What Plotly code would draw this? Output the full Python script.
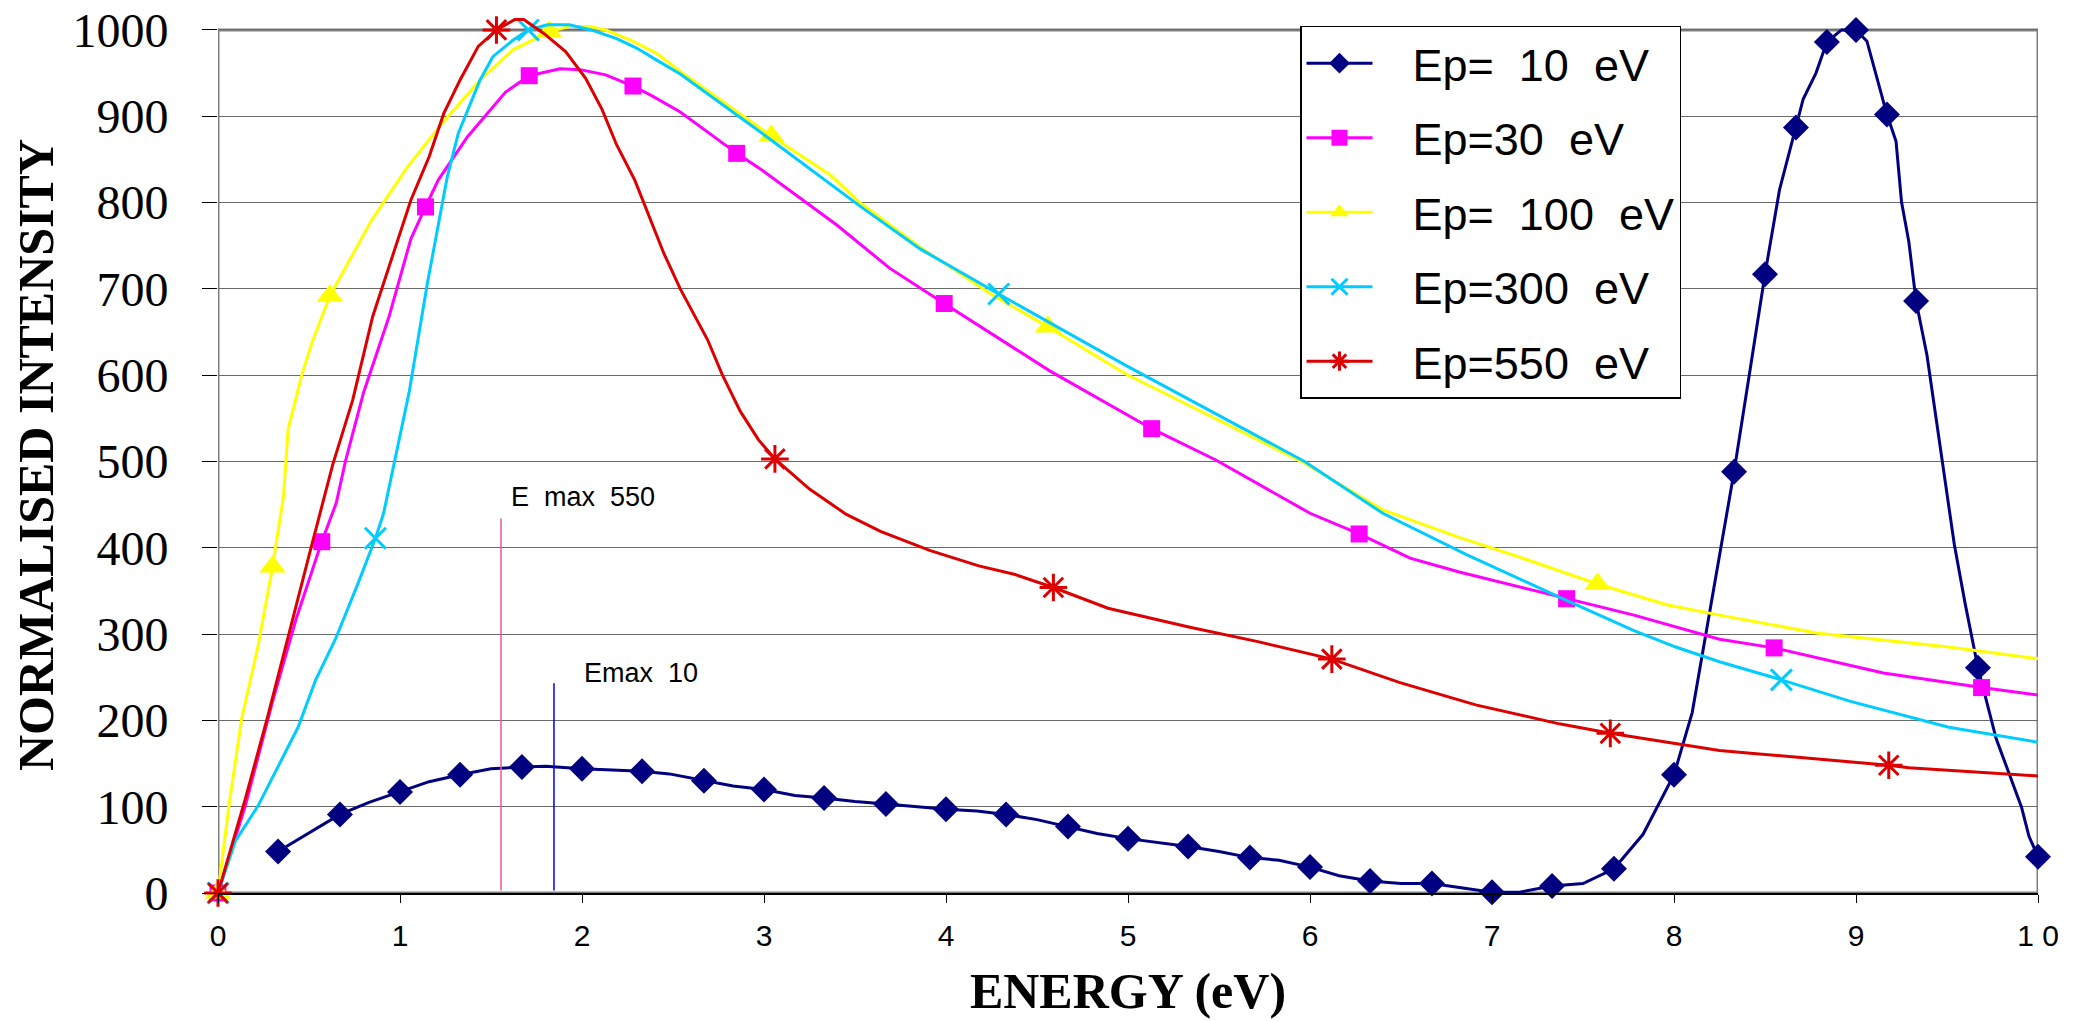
import plotly.graph_objects as go

# ---------------- data ----------------
x_tick_vals = [0, 1, 2, 3, 4, 5, 6, 7, 8, 9, 10]
x_tick_text = ["0", "1", "2", "3", "4", "5", "6", "7", "8", "9", "1 0"]
y_tick_vals = [0, 100, 200, 300, 400, 500, 600, 700, 800, 900, 1000]

names = ["\u2002\u00a0Ep=\u00a0 10\u00a0 eV", "\u2002\u00a0Ep=30\u00a0 eV",
         "\u2002\u00a0Ep=\u00a0 100\u00a0 eV", "\u2002\u00a0Ep=300\u00a0 eV",
         "\u2002\u00a0Ep=550\u00a0 eV"]

# Ep = 10 eV
ep10_line_x = [0.33, 0.5, 0.67, 0.83, 1.0, 1.16, 1.33, 1.5, 1.67, 1.8, 2.0, 2.15, 2.33, 2.48,
               2.67, 2.83, 3.0, 3.17, 3.33, 3.5, 3.67, 3.83, 4.0, 4.17, 4.33, 4.5, 4.67, 4.83,
               5.0, 5.17, 5.33, 5.5, 5.67, 5.83, 6.0, 6.16, 6.33, 6.5, 6.67, 6.83, 7.0, 7.15,
               7.33, 7.5, 7.67, 7.83, 8.0, 8.1, 8.26, 8.33, 8.42, 8.5, 8.58, 8.67, 8.71, 8.78,
               8.84, 8.92, 9.0, 9.06, 9.17, 9.22, 9.25, 9.29, 9.33, 9.39, 9.47, 9.54, 9.6,
               9.67, 9.77, 9.91, 9.95, 10.0]
ep10_line_y = [48, 70, 91, 105, 117, 129, 137, 144, 146, 147, 144, 143, 141, 138,
               130, 124, 120, 113, 110, 106, 103, 100, 97, 95, 91, 85, 77, 69,
               63, 58, 54, 48, 41, 38, 30, 20, 14, 11, 11, 6, 1, 1,
               8, 11, 28, 68, 137, 209, 401, 488, 609, 717, 815, 887, 920, 950,
               986, 1000, 1000, 987, 902, 871, 801, 755, 686, 623, 503, 404, 335,
               261, 179, 99, 66, 42]
ep10_mark_x = [0.33, 0.67, 1.0, 1.33, 1.67, 2.0, 2.33, 2.67, 3.0, 3.33, 3.67, 4.0, 4.33, 4.67,
               5.0, 5.33, 5.67, 6.0, 6.33, 6.67, 7.0, 7.33, 7.67, 8.0, 8.33, 8.5, 8.67, 8.84,
               9.0, 9.17, 9.33, 9.67, 10.0]
ep10_mark_y = [48, 91, 117, 137, 146, 144, 141, 130, 120, 110, 103, 97, 91, 77,
               63, 54, 41, 30, 14, 11, 1, 8, 28, 137, 488, 717, 887, 986,
               1000, 902, 686, 261, 42]

# Ep = 30 eV
ep30_line_x = [0, 0.15, 0.30, 0.43, 0.57, 0.65, 0.70, 0.80, 0.94, 1.06, 1.14, 1.21, 1.37, 1.58,
               1.71, 1.88, 1.99, 2.13, 2.28, 2.39, 2.54, 2.85, 2.98, 3.40, 3.69, 3.99, 4.57,
               5.13, 5.48, 6.0, 6.27, 6.55, 6.82, 7.41, 7.78, 8.25, 8.55, 9.15, 9.69, 10.05]
ep30_line_y = [0, 101, 222, 318, 407, 452, 500, 580, 668, 758, 795, 826, 876, 928,
               947, 955, 954, 948, 935, 923, 905, 857, 839, 774, 724, 683, 605,
               538, 502, 440, 416, 388, 372, 341, 322, 294, 284, 255, 238, 228]
ep30_mark_x = [0, 0.57, 1.14, 1.71, 2.28, 2.85, 3.99, 5.13, 6.27, 7.41, 8.55, 9.69]
ep30_mark_y = [0, 407, 795, 947, 935, 857, 683, 538, 416, 341, 284, 238]

# Ep = 100 eV
ep100_line_x = [0, 0.06, 0.13, 0.22, 0.30, 0.36, 0.385, 0.46, 0.52, 0.615, 0.845, 1.04, 1.24,
                1.44, 1.62, 1.82, 1.93, 2.04, 2.13, 2.27, 2.41, 2.54, 3.04, 3.37, 3.52, 3.86,
                4.255, 4.56, 4.99, 5.24, 5.97, 6.40, 6.82, 7.14, 7.58, 7.96, 8.25, 8.79,
                9.51, 10.05]
ep100_line_y = [0, 101, 202, 286, 378, 460, 537, 600, 640, 692, 780, 841, 894,
                942, 977, 998, 1004, 1004, 1000, 988, 973, 952, 877, 831, 801, 748,
                693, 656, 601, 575, 498, 444, 412, 390, 358, 334, 322, 301,
                285, 270]
ep100_mark_x = [0, 0.30, 0.615, 1.82, 3.04, 4.56, 7.58]
ep100_mark_y = [0, 378, 692, 998, 877, 656, 358]

# Ep = 300 eV
ep300_line_x = [0, 0.095, 0.22, 0.315, 0.44, 0.535, 0.645, 0.77, 0.865, 0.91, 0.975, 1.05,
                1.15, 1.20, 1.26, 1.32, 1.44, 1.51, 1.62, 1.705, 1.81, 1.93, 2.05, 2.19,
                2.30, 2.41, 2.54, 3.03, 3.52, 3.86, 4.29, 4.99, 5.97, 6.40, 6.86, 7.40,
                7.78, 8.01, 8.25, 8.59, 8.97, 9.51, 10.05]
ep300_line_y = [0, 60, 101, 141, 192, 246, 294, 359, 411, 440, 504, 580,
                706, 764, 830, 880, 942, 969, 988, 1000, 1006, 1006, 1000, 990,
                979, 965, 949, 874, 797, 746, 694, 611, 500, 440, 392, 340,
                304, 285, 268, 247, 222, 192, 173]
ep300_mark_x = [0, 0.865, 1.705, 4.29, 8.59]
ep300_mark_y = [0, 411, 1000, 694, 247]

# Ep = 550 eV
ep550_line_x = [0, 0.15, 0.27, 0.39, 0.51, 0.63, 0.74, 0.85, 0.95, 1.06, 1.16, 1.24, 1.33,
                1.43, 1.53, 1.63, 1.68, 1.79, 1.91, 2.02, 2.11, 2.19, 2.29, 2.36, 2.45,
                2.54, 2.69, 2.77, 2.87, 2.97, 3.06, 3.25, 3.45, 3.64, 3.91, 4.18, 4.38,
                4.59, 4.89, 5.34, 5.72, 6.12, 6.49, 6.91, 7.37, 7.65, 8.25, 8.42, 9.18,
                9.29, 10.05]
ep550_line_y = [0, 109, 202, 302, 399, 496, 571, 668, 733, 803, 853, 903, 942,
                981, 1000, 1012, 1012, 996, 975, 944, 908, 867, 826, 788, 741,
                700, 641, 601, 558, 525, 503, 468, 439, 419, 397, 379, 369,
                354, 330, 308, 291, 271, 244, 218, 196, 185, 165, 162, 148,
                145, 135]
ep550_mark_x = [0, 1.53, 3.06, 4.59, 6.12, 7.65, 9.18]
ep550_mark_y = [0, 1000, 503, 354, 271, 185, 148]

# Emax markers (energy, top of the marker line)
emax_labels = ["E\u00a0 max\u00a0 550", "Emax\u00a0 10"]
emax_energy = [1.555, 1.846]
emax_top = [434, 243]
emax_label_pos_x = [1.6, 2.0]
emax_label_pos_y = [459, 255]

# ---------------- styling ----------------
colors = ["#000080", "#FF00FF", "#FFFF00", "#00CCFF", "#DD0000"]
symbols = ["diamond", "square", "triangle-up", "x-thin", "asterisk"]
msizes = [20, 17, 23, 21, 23]
emax_colors = ["#E8589F", "#0000DD"]

series = [
    (ep10_line_x, ep10_line_y, ep10_mark_x, ep10_mark_y),
    (ep30_line_x, ep30_line_y, ep30_mark_x, ep30_mark_y),
    (ep100_line_x, ep100_line_y, ep100_mark_x, ep100_mark_y),
    (ep300_line_x, ep300_line_y, ep300_mark_x, ep300_mark_y),
    (ep550_line_x, ep550_line_y, ep550_mark_x, ep550_mark_y),
]

fig = go.Figure()

for i, (lx, ly, mx, my) in enumerate(series):
    c = colors[i]
    sym = symbols[i]
    mline = dict(color=c, width=3) if sym in ("x-thin", "asterisk") else dict(color=c, width=0)
    marker = dict(symbol=sym, size=msizes[i], color=c, line=mline)
    fig.add_trace(go.Scatter(x=lx, y=ly, mode="lines", line=dict(color=c, width=3),
                             legendgroup=names[i], showlegend=False, hoverinfo="skip"))
    fig.add_trace(go.Scatter(x=mx, y=my, mode="markers", marker=marker,
                             legendgroup=names[i], showlegend=False, cliponaxis=False))
    fig.add_trace(go.Scatter(x=[None], y=[None], mode="lines+markers", name=names[i],
                             line=dict(color=c, width=3), marker=marker,
                             legendgroup=names[i], showlegend=True))

shapes = [
    dict(type="rect", xref="x", yref="y", x0=0, x1=10, y0=0, y1=1000,
         line=dict(color="#808080", width=3), layer="below"),
]
for e, top, col in zip(emax_energy, emax_top, emax_colors):
    shapes.append(dict(type="line", xref="x", yref="y", x0=e, x1=e, y0=3, y1=top,
                       line=dict(color=col, width=1.5)))

annotations = []
for txt, ax_, ay_ in zip(emax_labels, emax_label_pos_x, emax_label_pos_y):
    annotations.append(dict(x=ax_, y=ay_, xref="x", yref="y", text=txt, showarrow=False,
                            xanchor="left", yanchor="middle",
                            font=dict(family="Liberation Sans, Arial", size=27, color="black")))

fig.update_layout(
    width=2083, height=1021,
    margin=dict(l=218, r=45, t=17, b=128),
    paper_bgcolor="white", plot_bgcolor="white",
    shapes=shapes, annotations=annotations,
    showlegend=True,
    legend=dict(x=(1300 - 218) / 1820, y=1000 / 1015 + 4 / 876, xanchor="left", yanchor="top",
                bgcolor="white", bordercolor="black", borderwidth=1.5,
                font=dict(family="Liberation Sans, Arial", size=45, color="black"),
                tracegroupgap=13, itemwidth=66),
    xaxis=dict(range=[0, 10], tickvals=x_tick_vals, ticktext=x_tick_text, automargin=False,
               showgrid=False, zeroline=False, showline=True, linecolor="black", linewidth=2,
               ticks="outside", ticklen=8, tickwidth=1, tickcolor="black",
               ticklabelstandoff=7,
               tickfont=dict(family="Liberation Sans Narrow, Arial Narrow, Liberation Sans",
                             size=30, color="black"),
               title=dict(text="<b>ENERGY (eV)</b>", standoff=22,
                          font=dict(family="Liberation Serif, Times New Roman", size=50,
                                    color="black"))),
    yaxis=dict(range=[0, 1015], tickvals=y_tick_vals, automargin=False,
               showgrid=True, gridcolor="#6a6a6a", gridwidth=1.3, zeroline=False,
               showline=False,
               ticks="outside", ticklen=15, tickwidth=1, tickcolor="black",
               ticklabelstandoff=24,
               tickfont=dict(family="Liberation Serif, Times New Roman", size=48, color="black"),
               title=dict(text="<b>NORMALISED INTENSITY</b>", standoff=2,
                          font=dict(family="Liberation Serif, Times New Roman", size=50,
                                    color="black"))),
)

fig.write_html("out.html")
